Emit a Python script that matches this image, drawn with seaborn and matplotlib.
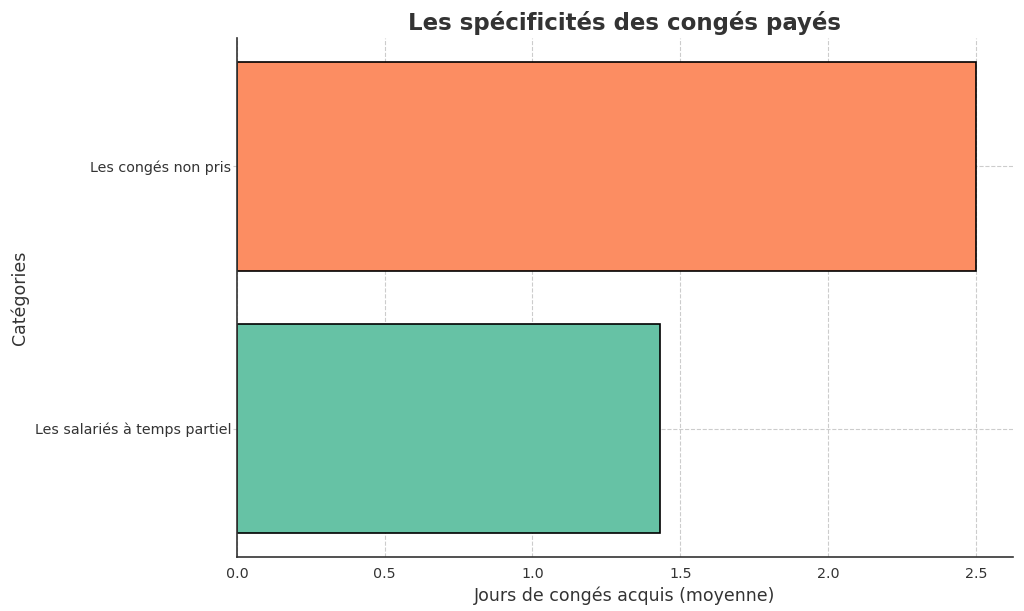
import pandas as pd
import matplotlib
matplotlib.use("Agg")
import matplotlib.pyplot as plt
import seaborn as sns

categories = ["Les congés non pris", "Les salariés à temps partiel"]
jours = [2.5, 1.43]
colors = ["#fc8d62", "#66c2a5"]

df = pd.DataFrame({"Catégorie": categories, "Jours": jours})

sns.set_style("whitegrid")
plt.rcParams['font.family'] = ['DejaVu Sans']
plt.rcParams['text.color'] = '#333333'
plt.rcParams['axes.labelcolor'] = '#333333'
plt.rcParams['xtick.color'] = '#333333'
plt.rcParams['ytick.color'] = '#333333'

fig, ax = plt.subplots(figsize=(10.24, 6.11), dpi=100)
fig.subplots_adjust(left=0.2314, right=0.989, bottom=0.0884, top=0.9378)

sns.barplot(data=df, y="Catégorie", x="Jours", hue="Catégorie", palette=colors,
            order=categories, orient="h", edgecolor="black", linewidth=1.2,
            width=0.8, saturation=1, legend=False, ax=ax)

ax.grid(True, linestyle="--", color="#cccccc", linewidth=0.8)
ax.set_axisbelow(True)
sns.despine(ax=ax)
for s in ["left", "bottom"]:
    ax.spines[s].set_color("#333333")
    ax.spines[s].set_linewidth(1.2)
ax.tick_params(axis="y", left=True, length=3, pad=1, color="#cccccc")
ax.tick_params(labelsize=10.3)
ax.set_xlim(0, 2.625)
ax.set_ylim(1.49, -0.49)

ax.set_title("Les spécificités des congés payés", fontsize=16.5, fontweight="bold", pad=6)
ax.set_xlabel("Jours de congés acquis (moyenne)", fontsize=12.5)
ax.set_ylabel("Catégories", fontsize=12.5)

plt.savefig("out.png", dpi=100)
